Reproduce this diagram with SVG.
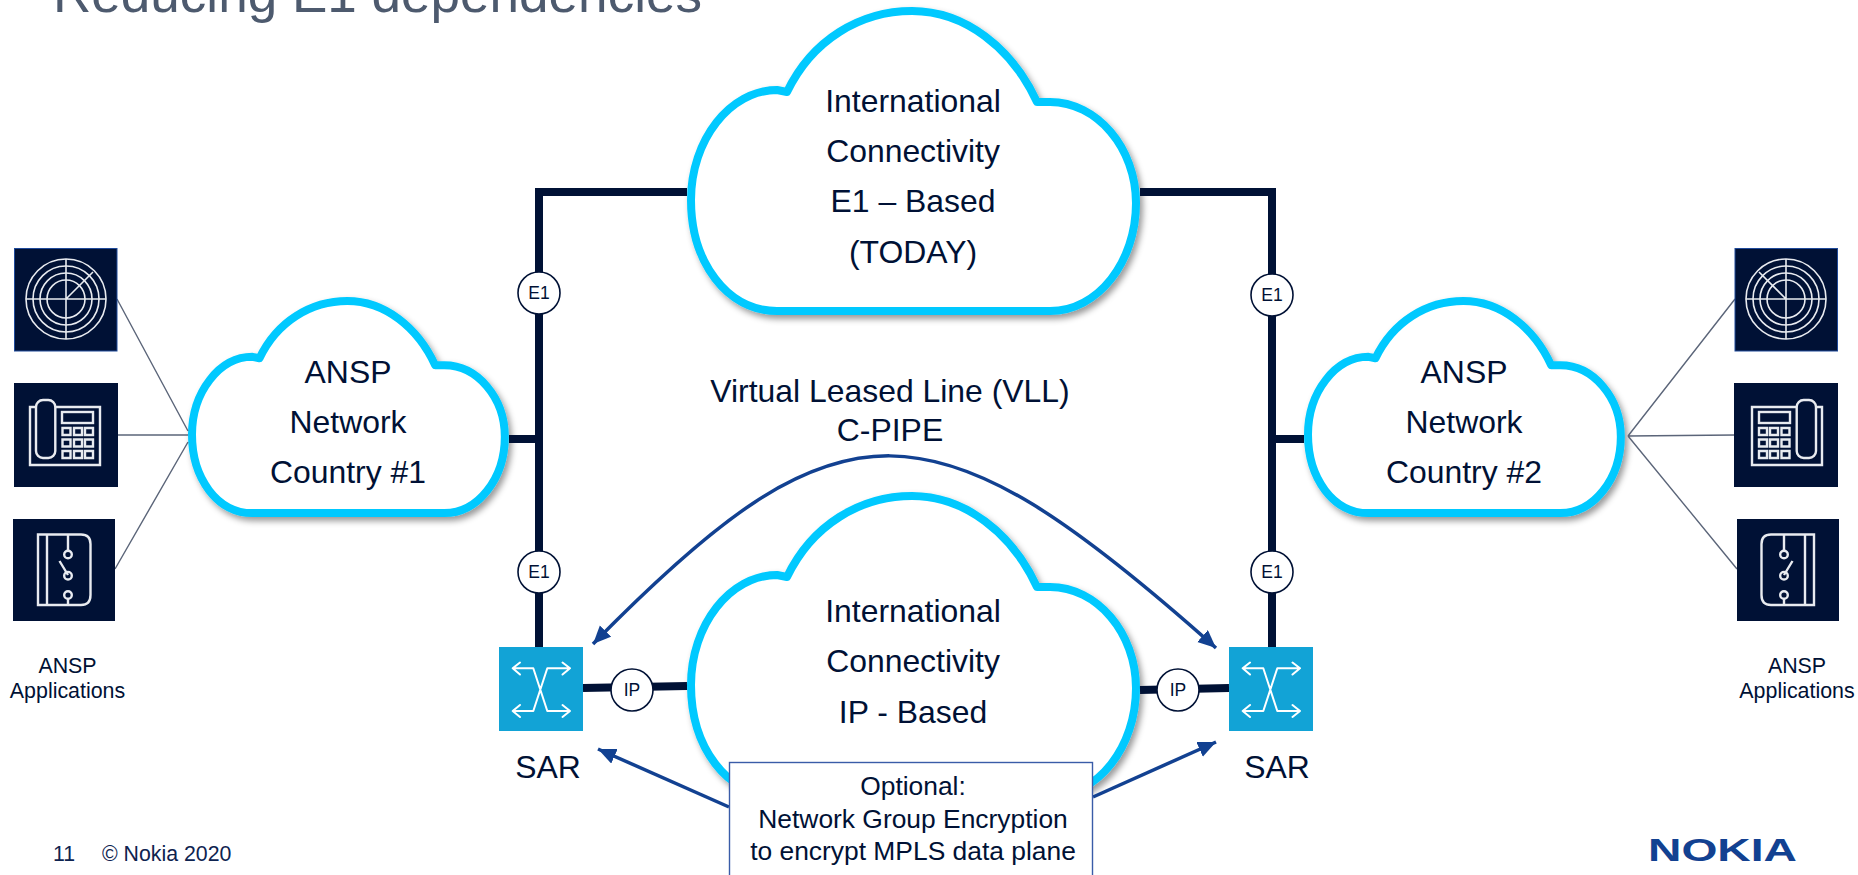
<svg xmlns="http://www.w3.org/2000/svg" xmlns:xlink="http://www.w3.org/1999/xlink" width="1858" height="875" viewBox="0 0 1858 875">
<style>
text{font-family:"Liberation Sans",Arial,sans-serif;fill:#001135;text-anchor:middle}
.big{font-size:31.9px}
.sm{font-size:21.4px}
.lab{font-size:17.5px}
.cloud{fill:#fff;stroke:#00c9ff;stroke-width:8;stroke-linejoin:round;vector-effect:non-scaling-stroke}
.thick{fill:none;stroke:#001135;stroke-width:8}
.thin{fill:none;stroke:#5b6579;stroke-width:1.4}
.arr{fill:none;stroke:#124191;stroke-width:3.5}
.badge{fill:#fff;stroke:#001135;stroke-width:1.6}
.tile{fill:#001135}
.ico{fill:none;stroke:#e8ebf0;stroke-width:1.6}
.ico2{fill:none;stroke:#e8ebf0;stroke-width:2.4}
.sar{fill:#12a3d6}
.sarl{fill:none;stroke:#fff;stroke-width:2;stroke-linejoin:round;stroke-linecap:round}
</style>
<defs>
<filter id="sh" x="-10%" y="-10%" width="125%" height="125%"><feDropShadow dx="3" dy="4" stdDeviation="3" flood-color="#000" flood-opacity="0.4"/></filter>
<marker id="ah" markerUnits="userSpaceOnUse" markerWidth="20" markerHeight="18" refX="18" refY="8" orient="auto-start-reverse"><path d="M0 0L18 8L0 16Z" fill="#124191"/></marker>
<path id="cloud" class="cloud" d="M787 92C812 40 860 11 912 11C965 11 1012 48 1037 102L1050 102C1097 102 1136 148 1136 203C1136 262 1098 311 1050 311L777 311C727 311 691 262 691 200C691 140 730 90 777 90Z"/>
<g id="radar">
<rect class="tile" x="14.500" y="248.500" width="102.500" height="102.500" stroke="#1f4a9a" stroke-width="1"/>
<circle class="ico" cx="66" cy="299" r="40"/><circle class="ico" cx="66" cy="299" r="33"/><circle class="ico" cx="66" cy="299" r="26"/><circle class="ico" cx="66" cy="299" r="19"/>
<path class="ico" d="M26 299H106M66 259V339M66 299L93 272"/>
</g>
<g id="phone">
<rect class="tile" x="14" y="383" width="104" height="104"/>
<path class="ico2" d="M36 407H30V465H100V407H55"/>
<rect class="ico2" x="36" y="400" width="19.300" height="58" rx="7"/>
<rect class="ico2" x="62" y="412" width="31" height="11"/>
<path class="ico2" d="M62.500 428h8v7h-8zM74 428h8v7h-8zM85 428h8v7h-8zM62.500 439.500h8v7h-8zM74 439.500h8v7h-8zM85 439.500h8v7h-8zM62.500 451h8v7h-8zM74 451h8v7h-8zM85 451h8v7h-8z"/>
</g>
<g id="switch">
<rect class="tile" x="13" y="519" width="102" height="102"/>
<path class="ico2" d="M38 534.500H81Q90.500 534.500 90.500 544V595Q90.500 605 81 605H38ZM47 534.500V605M68 534.500V550.500M68 599V605M59.500 561L68 575"/>
<circle class="ico2" cx="68" cy="554.500" r="3.800"/><circle class="ico2" cx="68" cy="575.700" r="3.800"/><circle class="ico2" cx="68" cy="595" r="3.800"/>
</g>
<g id="sarIcon">
<rect class="sar" x="0" y="0" width="84" height="84"/>
<path class="sarl" d="M71 21.300H48.300L34.300 64H13.700M13.700 21.300H34.300L48.300 64H71M21 15.500L13.700 21.300L21 27.500M63.500 15.500L71 21.300L63.500 27.500M21 58L13.700 64L21 70M63.500 58L71 64L63.500 70"/>
</g>
</defs>

<rect width="1858" height="875" fill="#fff"/>
<text x="377.500" y="12" font-size="52" style="fill:#4d5a6e" textLength="649" lengthAdjust="spacingAndGlyphs">Reducing E1 dependencies</text>

<g id="cloud-e1" filter="url(#sh)"><use xlink:href="#cloud" href="#cloud"/></g>
<g id="cloud-ip" filter="url(#sh)"><use xlink:href="#cloud" href="#cloud" transform="translate(0 485)"/></g>
<g id="cloud-c1" filter="url(#sh)"><use xlink:href="#cloud" href="#cloud" transform="translate(192 301) scale(0.703 0.707) translate(-691 -11)"/></g>
<g id="cloud-c2" filter="url(#sh)"><use xlink:href="#cloud" href="#cloud" transform="translate(1308 301) scale(0.703 0.707) translate(-691 -11)"/></g>

<g id="connectors">
<path class="thick" d="M687 192H539V648"/>
<path class="thick" d="M1140 192H1272V648"/>
<path class="thick" d="M509 439H539"/>
<path class="thick" d="M1272 439H1304"/>
<path class="thick" d="M583 688L687 686"/>
<path class="thick" d="M1140 690L1229 688"/>
<path class="thin" d="M117 299L188 431M118 435H188M115 569L188 442"/>
<path class="thin" d="M1735 299L1628 436M1735 435L1628 436M1737 569L1628 436"/>
<path class="arr" d="M593 644C840 392 930 393 1216 648" marker-start="url(#ah)" marker-end="url(#ah)"/>
<path class="arr" d="M729 807L598 749" marker-end="url(#ah)"/>
<path class="arr" d="M1093 797L1216 742" marker-end="url(#ah)"/>
</g>

<g id="sar-1"><use xlink:href="#sarIcon" href="#sarIcon" transform="translate(499 647)"/><text class="big" x="548" y="778">SAR</text></g>
<g id="sar-2"><use xlink:href="#sarIcon" href="#sarIcon" transform="translate(1229 647)"/><text class="big" x="1277" y="778">SAR</text></g>

<g id="e1-a"><circle class="badge" cx="539" cy="293" r="21"/><text class="lab" x="539" y="299">E1</text></g>
<g id="e1-b"><circle class="badge" cx="539" cy="572" r="21"/><text class="lab" x="539" y="578">E1</text></g>
<g id="e1-c"><circle class="badge" cx="1272" cy="295" r="21"/><text class="lab" x="1272" y="301">E1</text></g>
<g id="e1-d"><circle class="badge" cx="1272" cy="572" r="21"/><text class="lab" x="1272" y="578">E1</text></g>
<g id="ip-a"><circle class="badge" cx="632" cy="690" r="21"/><text class="lab" x="632" y="696">IP</text></g>
<g id="ip-b"><circle class="badge" cx="1178" cy="690" r="21"/><text class="lab" x="1178" y="696">IP</text></g>

<g id="apps-left">
<use xlink:href="#radar" href="#radar"/><use xlink:href="#phone" href="#phone"/><use xlink:href="#switch" href="#switch"/>
<text class="sm" x="67.500" y="673">ANSP</text><text class="sm" x="67.500" y="698">Applications</text>
</g>
<g id="apps-right">
<g transform="translate(1852 0) scale(-1 1)"><use xlink:href="#radar" href="#radar"/><use xlink:href="#phone" href="#phone"/><use xlink:href="#switch" href="#switch"/></g>
<text class="sm" x="1797" y="673">ANSP</text><text class="sm" x="1797" y="698">Applications</text>
</g>

<g id="label-e1"><text class="big" x="913" y="112">International</text><text class="big" x="913" y="162">Connectivity</text><text class="big" x="913" y="212">E1 – Based</text><text class="big" x="913" y="263">(TODAY)</text></g>
<g id="label-ip"><text class="big" x="913" y="622">International</text><text class="big" x="913" y="672">Connectivity</text><text class="big" x="913" y="723">IP - Based</text></g>
<g id="label-c1"><text class="big" x="348" y="383">ANSP</text><text class="big" x="348" y="433">Network</text><text class="big" x="348" y="483">Country #1</text></g>
<g id="label-c2"><text class="big" x="1464" y="383">ANSP</text><text class="big" x="1464" y="433">Network</text><text class="big" x="1464" y="483">Country #2</text></g>
<g id="label-vll"><text class="big" x="890" y="402">Virtual Leased Line (VLL)</text><text class="big" x="890" y="441">C-PIPE</text></g>

<g id="optional">
<rect x="729.500" y="762.500" width="363" height="130" fill="#fff" stroke="#3a5ca8" stroke-width="1.4"/>
<text x="913" y="795" font-size="26.400">Optional:</text>
<text x="913" y="828" font-size="26.400">Network Group Encryption</text>
<text x="913" y="860" font-size="26.400">to encrypt MPLS data plane</text>
</g>

<text x="53" y="861" font-size="21.300" style="text-anchor:start;fill:#0e2350">11</text>
<text x="102" y="861" font-size="21.300" style="text-anchor:start;fill:#0e2350">© Nokia 2020</text>
<text x="1648" y="861" font-size="30.500" font-weight="700" style="text-anchor:start;fill:#124191" textLength="149" lengthAdjust="spacingAndGlyphs">NOKIA</text>
</svg>
